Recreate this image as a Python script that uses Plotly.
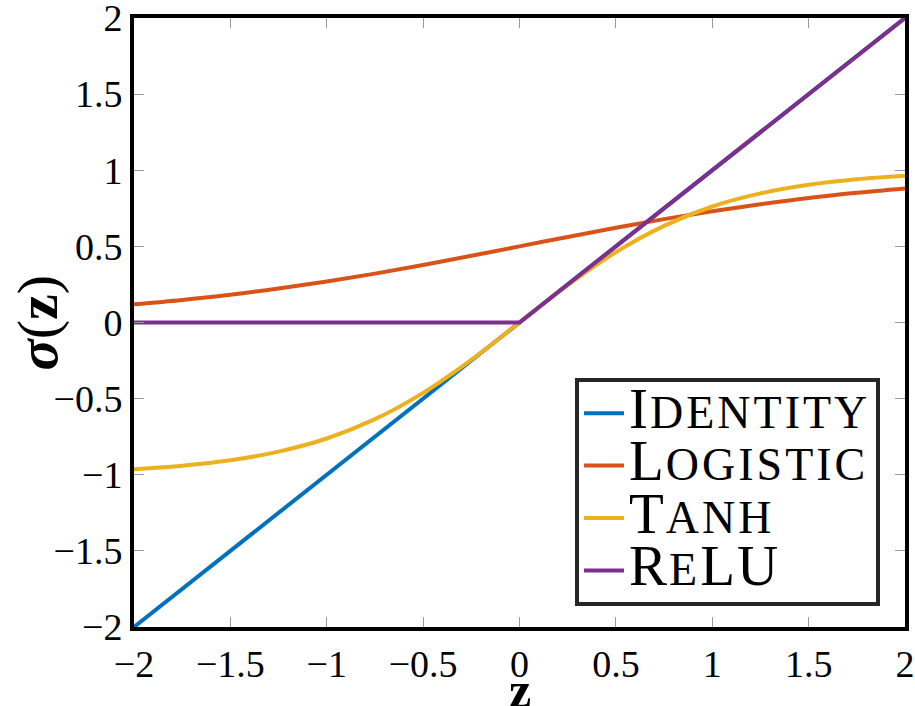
import plotly.graph_objects as go

# z sample positions and function values
z = [-2.0, -1.75, -1.5, -1.25, -1.0, -0.75, -0.5, -0.25, 0.0,
     0.25, 0.5, 0.75, 1.0, 1.25, 1.5, 1.75, 2.0]
identity = [-2.0, -1.75, -1.5, -1.25, -1.0, -0.75, -0.5, -0.25, 0.0,
            0.25, 0.5, 0.75, 1.0, 1.25, 1.5, 1.75, 2.0]
logistic = [0.119, 0.148, 0.182, 0.223, 0.269, 0.321, 0.378, 0.438, 0.5,
            0.562, 0.622, 0.679, 0.731, 0.777, 0.818, 0.852, 0.881]
tanh_v = [-0.964, -0.941, -0.905, -0.848, -0.762, -0.635, -0.462, -0.245, 0.0,
          0.245, 0.462, 0.635, 0.762, 0.848, 0.905, 0.941, 0.964]
relu_z = [-2.0, 0.0, 2.0]
relu = [0.0, 0.0, 2.0]

tick_vals = [-2, -1.5, -1, -0.5, 0, 0.5, 1, 1.5, 2]
tick_text = ["\u22122", "\u22121.5", "\u22121", "\u22120.5", "0", "0.5", "1", "1.5", "2"]

colors = ["#0072BD", "#D95319", "#EDB120", "#7E2F8E"]

CAP = 57
SMALL = 46


def sc(parts):
    out = ""
    for cap, rest in parts:
        out += f"<span style='font-size:{CAP}px;letter-spacing:2px'>{cap}</span>"
        if rest:
            out += f"<span style='font-size:{SMALL}px;letter-spacing:3px'>{rest}</span>"
    return out


names = [
    sc([("I", "DENTITY")]),
    sc([("L", "OGISTIC")]),
    sc([("T", "ANH")]),
    sc([("R", "E"), ("LU", "")]),
]

fig = go.Figure()
fig.add_trace(go.Scatter(x=z, y=identity, mode="lines", name=names[0],
                         line=dict(color=colors[0], width=4)))
fig.add_trace(go.Scatter(x=z, y=logistic, mode="lines", name=names[1],
                         line=dict(color=colors[1], width=4, shape="spline")))
fig.add_trace(go.Scatter(x=z, y=tanh_v, mode="lines", name=names[2],
                         line=dict(color=colors[2], width=4, shape="spline")))
fig.add_trace(go.Scatter(x=relu_z, y=relu, mode="lines", name=names[3],
                         line=dict(color=colors[3], width=4)))

font_family = "Liberation Serif, DejaVu Serif, serif"
axis_common = dict(
    tickvals=tick_vals, ticktext=tick_text,
    showgrid=False, zeroline=False, automargin=False,
    showline=True, linecolor="black", linewidth=4, mirror="ticks",
    ticks="inside", ticklen=10, tickwidth=1, tickcolor="#9a9a9a",
    ticklabeloverflow="allow",
    tickfont=dict(family=font_family, size=38, color="black"),
)

fig.update_layout(
    width=915, height=706,
    margin=dict(l=134, r=10, t=18, b=79),
    paper_bgcolor="white", plot_bgcolor="white",
    showlegend=True,
    xaxis=dict(range=[-2, 2], **axis_common),
    yaxis=dict(range=[-2, 2], **axis_common),
    legend=dict(
        x=0.9676, y=0.0345, xanchor="right", yanchor="bottom",
        bgcolor="white", bordercolor="#262626", borderwidth=4,
        font=dict(family=font_family, size=38, color="black"),
        tracegroupgap=0, itemwidth=40,
    ),
    annotations=[
        dict(text="<b>z</b>", xref="paper", yref="paper", x=0.5, y=-0.103,
             xanchor="center", yanchor="middle", showarrow=False,
             font=dict(family=font_family, size=50, color="black")),
        dict(text="<b><i>σ</i></b>(<b>z</b>)", xref="paper", yref="paper",
             x=-0.1258, y=0.5, xanchor="center", yanchor="middle",
             textangle=-90, showarrow=False,
             font=dict(family=font_family, size=58, color="black")),
    ],
)

# remove the page's default body margin so the figure sits at the window's corner
fig.write_html("out.html", config={"displayModeBar": False},
               post_script="document.body.style.margin='0';")
